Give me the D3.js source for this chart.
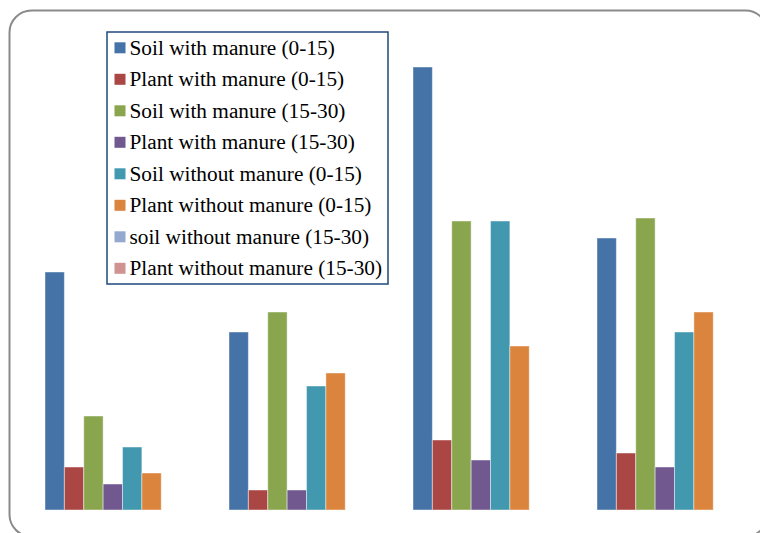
<!DOCTYPE html>
<html>
<head>
<meta charset="utf-8">
<script src="https://cdn.jsdelivr.net/npm/d3@7"></script>
<style>
  body { margin: 0; background: #fff; }
  svg { display: block; }
</style>
</head>
<body>
<svg id="chart"></svg>
<script>
// categories (no labels shown on the chart)
var groups = ['1', '2', '3', '4'];

var seriesNames = [
  'Soil with manure (0-15)',
  'Plant with manure (0-15)',
  'Soil with manure (15-30)',
  'Plant with manure (15-30)',
  'Soil without manure (0-15)',
  'Plant without manure (0-15)',
  'soil without manure (15-30)',
  'Plant without manure (15-30)'
];

// values per series, one per group
var soilManure0   = [23.8, 17.8, 44.3, 27.2];
var plantManure0  = [4.3, 2.0, 7.0, 5.7];
var soilManure15  = [9.4, 19.8, 28.9, 29.2];
var plantManure15 = [2.6, 2.0, 5.0, 4.3];
var soilNo0       = [6.3, 12.4, 28.9, 17.8];
var plantNo0      = [3.7, 13.7, 16.4, 19.8];
var soilNo15      = [0, 0, 0, 0];
var plantNo15     = [0, 0, 0, 0];

var seriesValues = [soilManure0, plantManure0, soilManure15, plantManure15,
                    soilNo0, plantNo0, soilNo15, plantNo15];

var colors = ['#4572A7', '#AA4643', '#89A54E', '#71588F',
              '#4198AF', '#DB843D', '#93A9CF', '#D19392'];

var W = 760, H = 533;

var svg = d3.select('#chart')
  .attr('width', W)
  .attr('height', H);

// rounded frame
svg.append('rect')
  .attr('x', 9.5)
  .attr('y', 10.5)
  .attr('width', 758)
  .attr('height', 526)
  .attr('rx', 22)
  .attr('ry', 22)
  .attr('fill', '#fff')
  .attr('stroke', '#8a8a8a')
  .attr('stroke-width', 2);

// scales
var x0 = d3.scaleBand()
  .domain(groups)
  .range([30.5, 766.5])
  .paddingInner(0.1576)
  .paddingOuter(0.0788);

var x1 = d3.scaleBand()
  .domain(d3.range(seriesNames.length))
  .range([0, x0.bandwidth()])
  .padding(0);

var y = d3.scaleLinear()
  .domain([0, 50])
  .range([510, 10]);

// bars
var g = svg.append('g');
groups.forEach(function (grp, gi) {
  seriesValues.forEach(function (vals, si) {
    var v = vals[gi];
    if (!v) return;
    g.append('rect')
      .attr('x', x0(grp) + x1(si))
      .attr('y', y(v))
      .attr('width', x1.bandwidth())
      .attr('height', y(0) - y(v))
      .attr('fill', colors[si])
      .attr('stroke', 'rgba(255,255,255,0.45)')
      .attr('stroke-width', 1);
  });
});

// legend
var legend = svg.append('g');
legend.append('rect')
  .attr('x', 107)
  .attr('y', 32)
  .attr('width', 281)
  .attr('height', 252)
  .attr('fill', '#fff')
  .attr('stroke', '#1F497D')
  .attr('stroke-width', 1.5);

seriesNames.forEach(function (name, i) {
  var cy = 47.8 + i * 31.5;
  legend.append('rect')
    .attr('x', 114.5)
    .attr('y', cy - 5.5)
    .attr('width', 11)
    .attr('height', 11)
    .attr('fill', colors[i]);
  legend.append('text')
    .attr('x', 129.5)
    .attr('y', cy + 6.8)
    .style('font-family', "'Liberation Serif', 'Times New Roman', serif")
    .style('font-size', '21.3px')
    .attr('fill', '#000')
    .text(name);
});
</script>
</body>
</html>
